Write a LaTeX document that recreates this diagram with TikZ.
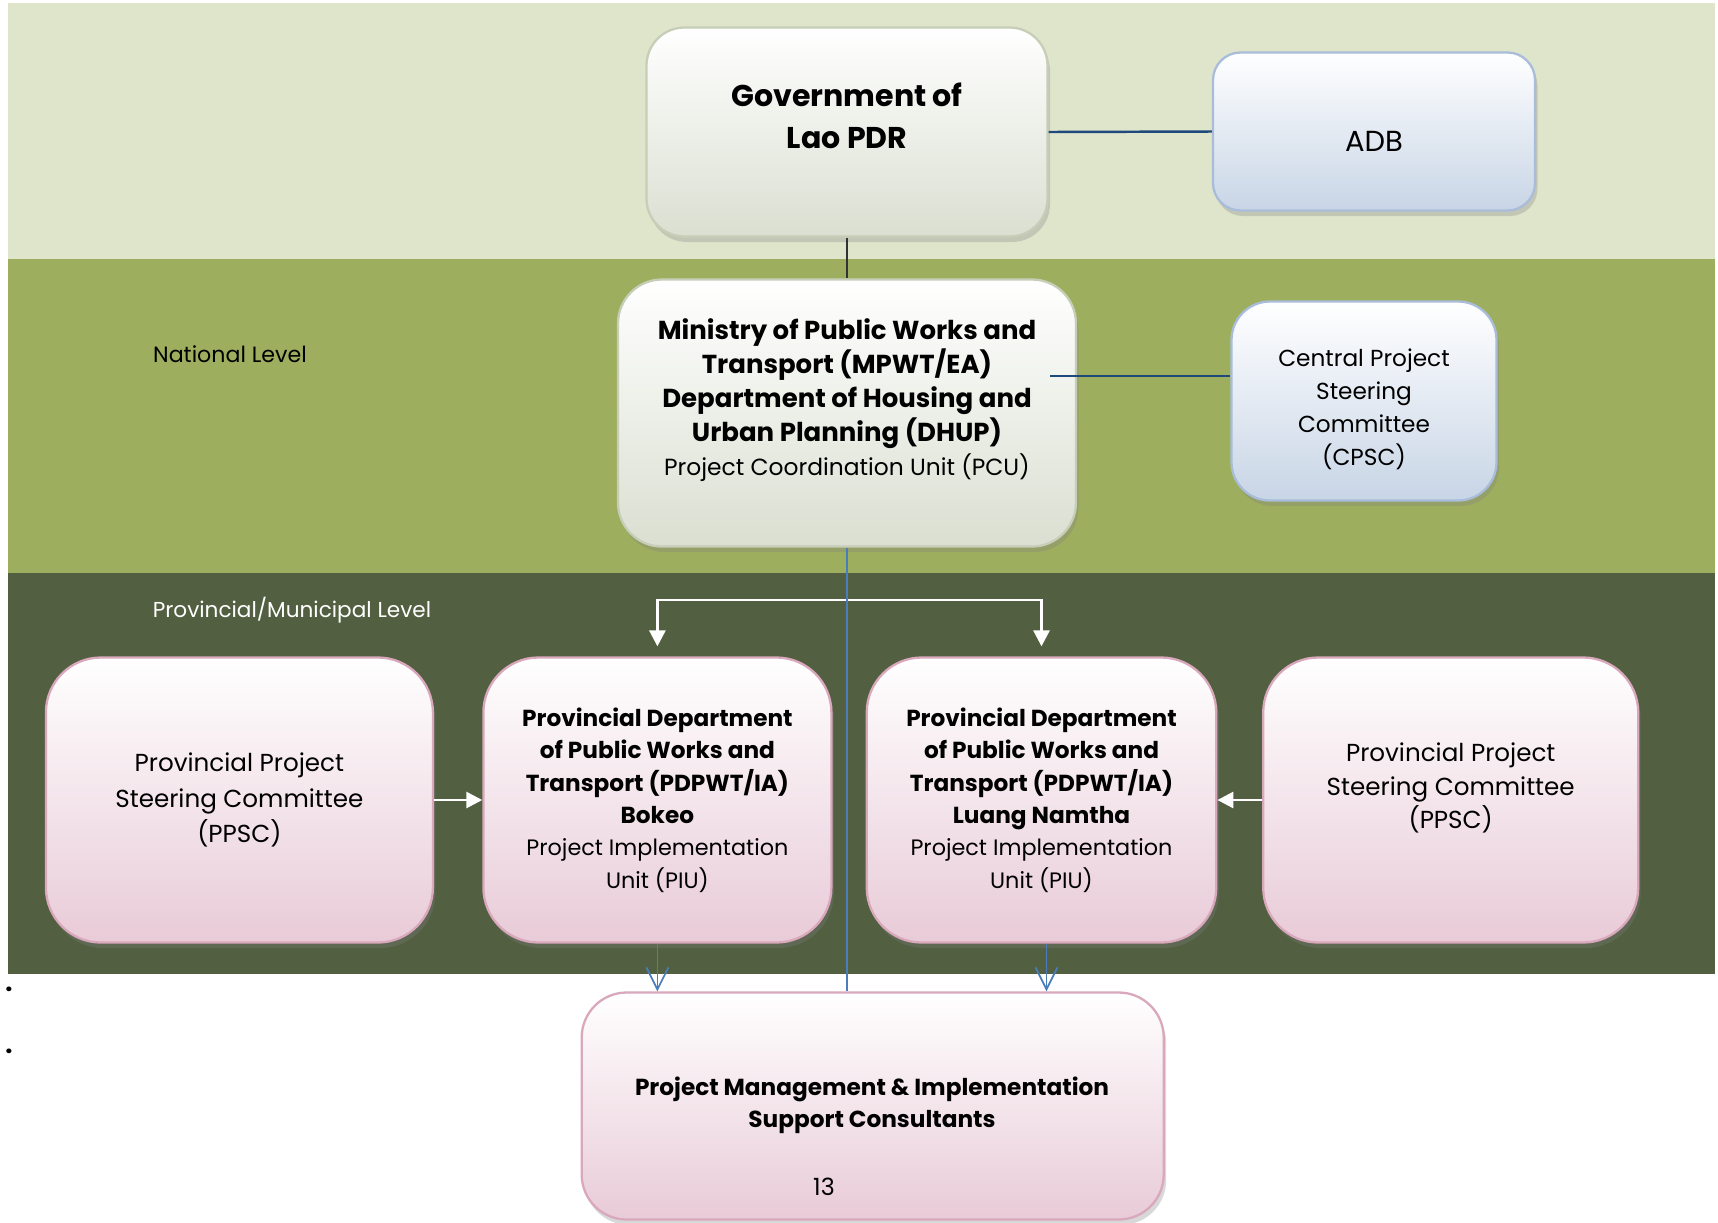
\documentclass[tikz,border=0pt]{standalone}
\usepackage{fontspec}
\setmainfont{Poppins}
\usepackage{tikz}
\usetikzlibrary{shapes.geometric, arrows, arrows.meta, shadows, calc}
\definecolor{bandlight}{HTML}{DFE5CB}
\definecolor{bandmid}{HTML}{9DAF5E}
\definecolor{banddark}{HTML}{525F40}
\definecolor{greyfill}{HTML}{DADFD1}
\definecolor{greyedge}{HTML}{C6CEB8}
\definecolor{bluefill}{HTML}{C8D5E6}
\definecolor{blueedge}{HTML}{A9BDDA}
\definecolor{pinkfill}{HTML}{E8CBD7}
\definecolor{pinkedge}{HTML}{D9A8BC}
\definecolor{navyline}{HTML}{1F497D}
\definecolor{blueline}{HTML}{4A7EBB}
\tikzstyle{box} = [rectangle, inner sep=0pt, line width=1.3pt, drop shadow={opacity=0.3, shadow xshift=0.5mm, shadow yshift=-1.1mm}]
\tikzstyle{greybox} = [box, draw=greyedge, top color=white, bottom color=greyfill]
\tikzstyle{bluebox} = [box, draw=blueedge, top color=white, bottom color=bluefill]
\tikzstyle{pinkbox} = [box, draw=pinkedge, top color=white, bottom color=pinkfill]
\tikzstyle{txt} = [align=center, inner sep=0pt]
\tikzstyle{whitearrow} = [draw=white, line width=1.6pt, -{Triangle[length=3.2mm, width=3.2mm]}]
\tikzstyle{bluearrow} = [draw=blueline, line width=1pt, -{Straight Barb[length=4.4mm, width=4.4mm, line width=1pt]}]

\begin{document}
\begin{tikzpicture}[x=0.2mm, y=-0.2mm]
        \useasboundingbox (0,0) rectangle (1718,1222);
        \fill[white] (0,0) rectangle (1718,1222);
        % Level bands
        \fill[bandlight] (8,3) rectangle (1715,259);
        \fill[bandmid] (8,259) rectangle (1715,573);
        \fill[banddark] (8,573) rectangle (1715,974);
        \node[txt, font=\fontsize{12.6}{14}\selectfont] (national) at (230,354) {National Level};
        \node[txt, text=white, font=\fontsize{12.3}{14}\selectfont] (provincial) at (292,610) {Provincial/Municipal Level};
        \node[txt, font=\Large\bfseries] (dotone) at (9,989) {.};
        \node[txt, font=\Large\bfseries] (dottwo) at (9,1051) {.};

        % National boxes
        \node[greybox, rounded corners=7.6mm, minimum width=80.2mm, minimum height=41.8mm] (gov) at (847,132) {};
        \node[txt, font=\fontsize{17.1}{23.8}\selectfont\bfseries] (govtext) at ($(gov.center)+(0,-16)$) {Government of\\Lao PDR};
        \node[bluebox, rounded corners=5.5mm, minimum width=64.4mm, minimum height=31.6mm] (adb) at (1374,131.5) {};
        \node[txt, font=\fontsize{16.5}{20}\selectfont] (adbtext) at ($(adb.center)+(0,10)$) {ADB};
        \node[greybox, rounded corners=8.8mm, minimum width=91.6mm, minimum height=53.4mm] (mpwt) at (847,413) {};
        \node[txt, font=\fontsize{14.8}{19.4}\selectfont\bfseries] (mpwttext) at ($(mpwt.center)+(0,-13)$) {Ministry of Public Works and\\Transport (MPWT/EA)\\Department of Housing and\\Urban Planning (DHUP)\\{\mdseries\fontsize{13.3}{19.4}\selectfont Project Coordination Unit (PCU)}};
        \node[bluebox, rounded corners=7.7mm, minimum width=53mm, minimum height=39.8mm] (cpsc) at (1364,401) {};
        \node[txt, font=\fontsize{13.2}{18.8}\selectfont] (cpsctext) at ($(cpsc.center)+(0,8)$) {Central Project\\Steering\\Committee\\(CPSC)};

        % Provincial boxes
        \node[pinkbox, rounded corners=11mm, minimum width=77.4mm, minimum height=57mm] (ppscl) at (239.4,800) {};
        \node[txt, font=\fontsize{14}{20}\selectfont] (ppscltext) at (ppscl.center) {Provincial Project\\Steering Committee\\(PPSC)};
        \node[pinkbox, rounded corners=11mm, minimum width=69.6mm, minimum height=57mm] (bokeo) at (657.4,800) {};
        \node[txt, font=\fontsize{13.2}{18.4}\selectfont\bfseries] (bokeotext) at (bokeo.center) {Provincial Department\\of Public Works and\\Transport (PDPWT/IA)\\Bokeo\\{\mdseries\fontsize{12.7}{18.4}\selectfont Project Implementation}\\{\mdseries\fontsize{12.7}{18.4}\selectfont Unit (PIU)}};
        \node[pinkbox, rounded corners=11mm, minimum width=69.9mm, minimum height=57mm] (ln) at (1041.5,800) {};
        \node[txt, font=\fontsize{13.2}{18.4}\selectfont\bfseries] (lntext) at (ln.center) {Provincial Department\\of Public Works and\\Transport (PDPWT/IA)\\Luang Namtha\\{\mdseries\fontsize{12.7}{18.4}\selectfont Project Implementation}\\{\mdseries\fontsize{12.7}{18.4}\selectfont Unit (PIU)}};
        \node[pinkbox, rounded corners=11mm, minimum width=75mm, minimum height=57mm] (ppscr) at (1450.7,800) {};
        \node[txt, font=\fontsize{14}{19}\selectfont] (ppscrtext) at ($(ppscr.center)+(0,-12)$) {Provincial Project\\Steering Committee\\(PPSC)};

        % Consultants
        \node[pinkbox, rounded corners=9mm, minimum width=116.4mm, minimum height=45.4mm] (pmisc) at (872.7,1106) {};
        \node[txt, font=\fontsize{13.2}{18.2}\selectfont\bfseries] (pmisctext) at (872,1105) {Project Management \& Implementation\\Support Consultants};
        \node[txt, font=\fontsize{13.5}{15}\selectfont] (page) at (824,1187) {13};

        % Connectors
        \draw[navyline, line width=1.4pt] (gov.east) -- (adb.west);
        \draw[black!80, line width=1.1pt] (gov.south) -- (mpwt.north);
        \coordinate (mpwtport) at (1050,376);
        \draw[navyline, line width=1.4pt] (mpwtport) -- (mpwtport -| cpsc.west);
        \coordinate (fork) at (847,600);
        \draw[whitearrow, shorten >=2mm] (fork) -| (bokeo.north);
        \draw[whitearrow, shorten >=2mm] (fork) -| (ln.north);
        \draw[blueline, line width=1.1pt] (mpwt.south) -- (mpwt.south |- pmisc.north);
        \draw[whitearrow] (ppscl.east) -- (bokeo.west);
        \draw[whitearrow] (ppscr.west) -- (ln.east);
        \draw[bluearrow] (bokeo.south) -- (bokeo.south |- pmisc.north);
        \draw[bluearrow] ($(ln.south)+(5,0)$) -- ($(ln.south |- pmisc.north)+(5,0)$);
\end{tikzpicture}
\end{document}
